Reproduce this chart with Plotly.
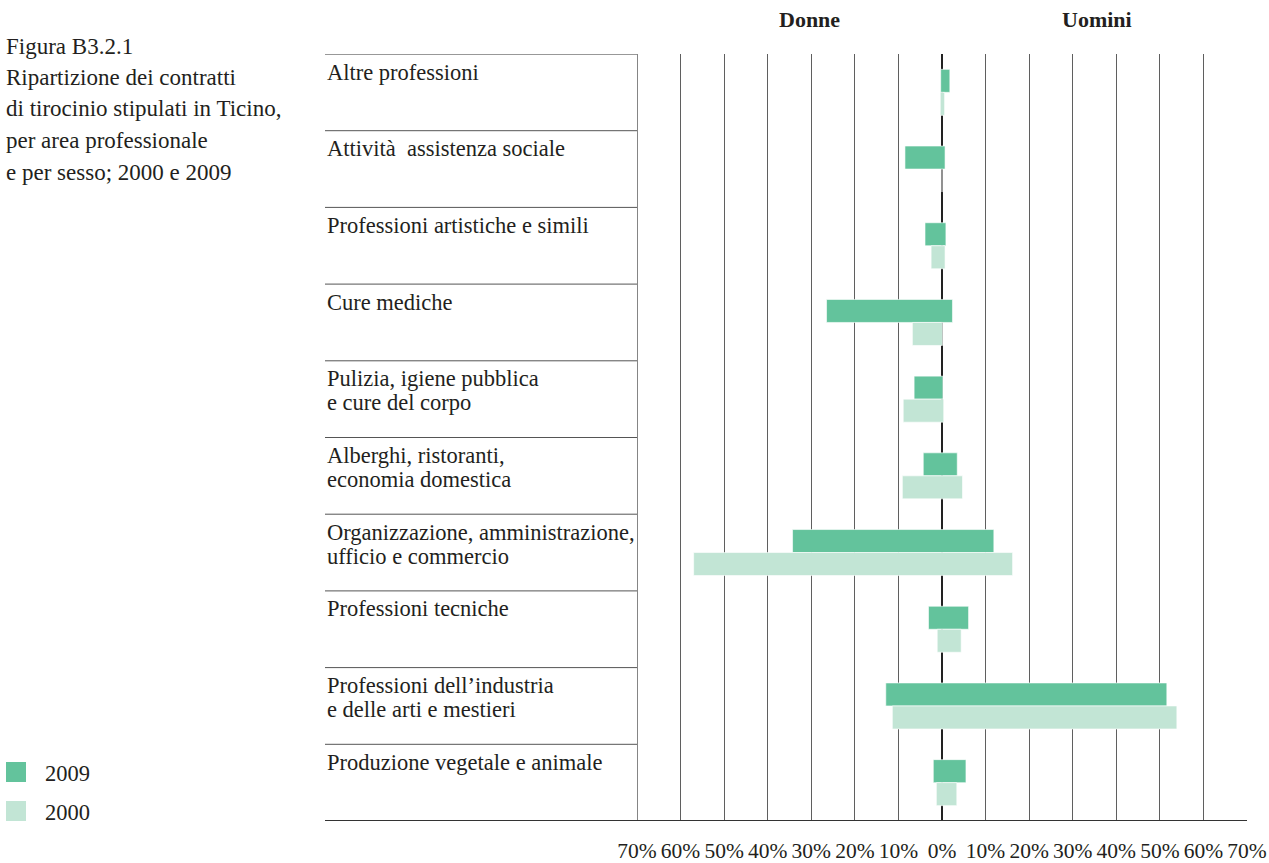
import plotly.graph_objects as go

# ---------------- data ----------------
categories = [
    "Altre professioni",
    "Attività\u00a0 assistenza sociale",
    "Professioni artistiche e simili",
    "Cure mediche",
    "Pulizia, igiene pubblica\ne cure del corpo",
    "Alberghi, ristoranti,\neconomia domestica",
    "Organizzazione, amministrazione,\nufficio e commercio",
    "Professioni tecniche",
    "Professioni dell’industria\ne delle arti e mestieri",
    "Produzione vegetale e animale",
]
donne_2009 = [0.3, 8.5, 3.9, 26.5, 6.4, 4.3, 34.3, 3.1, 12.9, 2.0]
uomini_2009 = [1.8, 0.7, 0.9, 2.4, 0.2, 3.5, 11.9, 6.1, 51.6, 5.5]
donne_2000 = [0.4, 0.0, 2.5, 6.8, 8.9, 9.1, 57.0, 1.1, 11.4, 1.3]
uomini_2000 = [0.6, 0.0, 0.7, 0.1, 0.4, 4.7, 16.2, 4.4, 53.9, 3.4]
tick_values = [-70, -60, -50, -40, -30, -20, -10, 0, 10, 20, 30, 40, 50, 60, 70]
tick_labels = ["70%", "60%", "50%", "40%", "30%", "20%", "10%", "0%",
               "10%", "20%", "30%", "40%", "50%", "60%", "70%"]
series_names = ["2009", "2000"]
title_lines = ["Figura B3.2.1", "Ripartizione dei contratti",
               "di tirocinio stipulati in Ticino,", "per area professionale",
               "e per sesso; 2000 e 2009"]
header_left = "Donne"
header_right = "Uomini"

# ---------------- styling ----------------
W, H = 1269, 863
PLOT_L, PLOT_R, PLOT_T, PLOT_B = 637, 1247, 54, 821
TABLE_L = 325
COL_2009 = "rgb(99,195,156)"
COL_2000 = "rgb(194,229,213)"
TXT = "#231f20"
FONT = "Liberation Serif"


def px_x(p):
    return p / W


def px_y(p):
    return (PLOT_B - p) / (PLOT_B - PLOT_T)


cat_ids = [c.replace("\n", " ") for c in categories]

fig = go.Figure()
fig.add_trace(go.Bar(
    y=cat_ids, x=[d + u for d, u in zip(donne_2009, uomini_2009)],
    base=[-d for d in donne_2009], orientation="h", name=series_names[0],
    marker=dict(color=COL_2009, line=dict(color="rgba(255,255,255,0.6)", width=1)),
    showlegend=False, hoverinfo="skip"))
fig.add_trace(go.Bar(
    y=cat_ids, x=[d + u for d, u in zip(donne_2000, uomini_2000)],
    base=[-d for d in donne_2000], orientation="h", name=series_names[1],
    marker=dict(color=COL_2000, line=dict(color="rgba(255,255,255,0.6)", width=1)),
    showlegend=False, hoverinfo="skip"))

shapes = []
n = len(categories)
for k in range(n + 1):
    last = k == n
    shapes.append(dict(
        type="line", xref="paper", yref="y",
        x0=px_x(TABLE_L), x1=px_x(PLOT_R if last else PLOT_L),
        y0=k - 0.5, y1=k - 0.5,
        line=dict(color="#333333" if (last or k == 0) else "#555555",
                  width=2 if last else 1),
        layer="above"))
# left frame line of the bar area (-70 %)
shapes.append(dict(type="line", xref="x", yref="paper", x0=-70, x1=-70,
                   y0=0, y1=1, line=dict(color="#333333", width=1.2)))

annotations = []
for i, c in enumerate(categories):
    for j, line in enumerate(c.split("\n")):
        annotations.append(dict(
            text=line, xref="paper", yref="y", x=px_x(TABLE_L), y=i - 0.5,
            xanchor="left", yanchor="middle", yshift=-(18 + 24 * j),
            showarrow=False, font=dict(family=FONT, size=22.5, color=TXT)))

for j, line in enumerate(title_lines):
    annotations.append(dict(
        text=line, xref="paper", yref="paper", x=px_x(4), y=px_y(46 + 31.5 * j),
        xanchor="left", yanchor="middle", showarrow=False,
        font=dict(family=FONT, size=23, color=TXT)))

annotations.append(dict(text="<b>" + header_left + "</b>", xref="x", yref="paper",
                        x=-30.5, y=px_y(19), xanchor="center", yanchor="middle",
                        showarrow=False, font=dict(family=FONT, size=22, color=TXT)))
annotations.append(dict(text="<b>" + header_right + "</b>", xref="x", yref="paper",
                        x=35.5, y=px_y(19), xanchor="center", yanchor="middle",
                        showarrow=False, font=dict(family=FONT, size=22, color=TXT)))

# legend (drawn manually to match the square swatches)
for k, (name, col) in enumerate(zip(series_names, [COL_2009, COL_2000])):
    top = 762 + 39 * k
    shapes.append(dict(type="rect", xref="paper", yref="paper",
                       x0=px_x(6), x1=px_x(26), y0=px_y(top + 20), y1=px_y(top),
                       fillcolor=col, line=dict(width=0)))
    annotations.append(dict(text=name, xref="paper", yref="paper",
                            x=px_x(43), y=px_y(top + 11), xanchor="left",
                            yanchor="middle", showarrow=False,
                            font=dict(family=FONT, size=22.5, color=TXT)))

fig.update_layout(
    width=W, height=H, autosize=False,
    margin=dict(l=0, r=0, t=PLOT_T, b=H - PLOT_B, pad=0, autoexpand=False),
    paper_bgcolor="white", plot_bgcolor="white",
    barmode="group", bargap=0.4, bargroupgap=0,
    shapes=shapes, annotations=annotations,
    showlegend=False,
    xaxis=dict(domain=[px_x(PLOT_L), px_x(PLOT_R)], range=[-70, 70],
               tickvals=tick_values, ticktext=tick_labels, ticks="",
               showgrid=True, gridcolor="#5f5f5f", gridwidth=1.2,
               zeroline=True, zerolinecolor="#222222", zerolinewidth=2,
               showline=False, ticklabelstandoff=14, automargin=False,
               tickfont=dict(family=FONT, size=21.5, color=TXT), fixedrange=True),
    yaxis=dict(type="category", categoryarray=cat_ids, range=[n - 0.5, -0.5],
               showticklabels=False, showgrid=False, zeroline=False,
               showline=False, ticks="", fixedrange=True, automargin=False),
)

fig.write_html(
    "out.html",
    config={"displayModeBar": False},
    post_script="document.body.style.margin='0px';document.body.style.overflow='hidden';",
)
